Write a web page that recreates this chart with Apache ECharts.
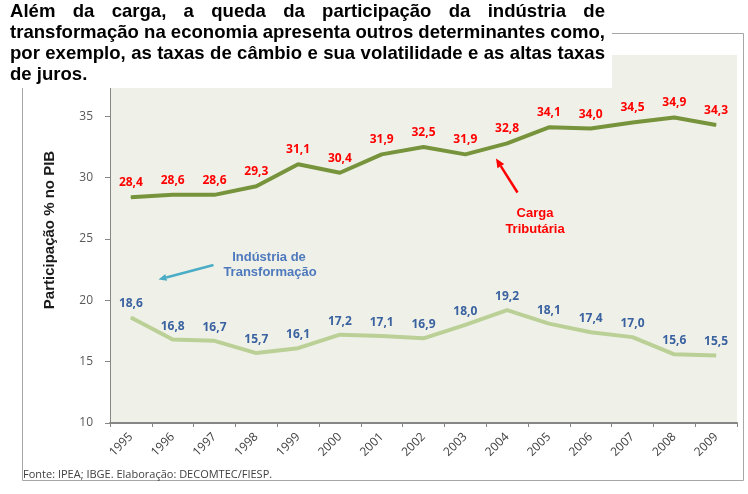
<!DOCTYPE html>
<html>
<head>
<meta charset="utf-8">
<script src="https://cdn.jsdelivr.net/npm/echarts@6/dist/echarts.min.js"></script>
<style>
html,body{margin:0;padding:0;background:#fff;}
#c{width:748px;height:494px;}
</style>
</head>
<body>
<div id="c"></div>
<script>
const categories = ['1995','1996','1997','1998','1999','2000','2001','2002','2003','2004','2005','2006','2007','2008','2009'];
const cargaTributaria = [28.4, 28.6, 28.6, 29.3, 31.1, 30.4, 31.9, 32.5, 31.9, 32.8, 34.1, 34.0, 34.5, 34.9, 34.3];
const industriaTransformacao = [18.6, 16.8, 16.7, 15.7, 16.1, 17.2, 17.1, 16.9, 18.0, 19.2, 18.1, 17.4, 17.0, 15.6, 15.5];
const yMin = 10, yMax = 40, yStep = 5;
const titleLines = [
  'Além da carga, a queda da participação da indústria de',
  'transformação na economia apresenta outros determinantes como,',
  'por exemplo, as taxas de câmbio e sua volatilidade e as altas taxas',
  'de juros.'
];
const yAxisName = 'Participação % no PIB';
const sourceText = 'Fonte: IPEA; IBGE. Elaboração: DECOMTEC/FIESP.';

const fmt = v => v.toFixed(1).replace('.', ',');

// Title justification via text measurement
const titleFont = 'bold 19px "Liberation Sans", Arial, sans-serif';
const cv = document.createElement('canvas').getContext('2d');
cv.font = titleFont;
const tLeft = 10, tRight = 605;
const lineW = cv.measureText(titleLines[1]).width;
const sx = Math.min(1, (tRight - tLeft) / lineW);
const lineYs = [12, 33, 54, 75];
const titleGraphics = [];
titleLines.forEach((ln, i) => {
  const justify = i < 3;
  const words = ln.split(' ');
  const widths = words.map(w => cv.measureText(w).width * sx);
  let gap = cv.measureText(' ').width * sx;
  if (justify) {
    const tot = widths.reduce((a, b) => a + b, 0);
    gap = (tRight - tLeft - tot) / (words.length - 1);
  }
  let x = tLeft;
  words.forEach((w, j) => {
    titleGraphics.push({
      type: 'text', x: x, y: lineYs[i], scaleX: sx, z: 101,
      style: { text: w, font: titleFont, fill: '#000', textAlign: 'left', textVerticalAlign: 'middle' }
    });
    x += widths[j] + gap;
  });
});

function arrow(x1, y1, x2, y2, color, w, headLen, headW) {
  const ang = Math.atan2(y2 - y1, x2 - x1);
  const bx = x2 - headLen * Math.cos(ang), by = y2 - headLen * Math.sin(ang);
  const px = -Math.sin(ang) * headW / 2, py = Math.cos(ang) * headW / 2;
  return [
    { type: 'line', z: 50, shape: { x1: x1, y1: y1, x2: bx, y2: by }, style: { stroke: color, lineWidth: w } },
    { type: 'polygon', z: 50, shape: { points: [[x2, y2], [bx + px, by + py], [bx - px, by - py]] }, style: { fill: color } }
  ];
}

const chart = echarts.init(document.getElementById('c'), null, { renderer: 'canvas' });
const option = {
  animation: false,
  backgroundColor: '#ffffff',
  grid: { left: 110, right: 11, top: 55, bottom: 71, show: true, backgroundColor: '#EFF1E8', borderWidth: 0 },
  xAxis: {
    type: 'category', data: categories, boundaryGap: true,
    axisLine: { lineStyle: { color: '#868686', width: 2 } },
    axisTick: { show: true, length: 4, lineStyle: { color: '#868686' } },
    axisLabel: { rotate: 45, fontSize: 12, color: '#404040', margin: 12, fontFamily: '"Open Sans", sans-serif' },
    splitLine: { show: false }
  },
  yAxis: {
    type: 'value', min: yMin, max: yMax, interval: yStep,
    axisLine: { show: true, lineStyle: { color: '#868686', width: 1 } },
    axisTick: { show: true, length: 5, lineStyle: { color: '#868686' } },
    axisLabel: { fontSize: 12, color: '#595959', margin: 17, fontFamily: '"Open Sans", sans-serif' },
    splitLine: { show: false }
  },
  series: [
    {
      name: 'Carga Tributária', type: 'line', data: cargaTributaria,
      symbol: 'circle', symbolSize: 1, showSymbol: true,
      itemStyle: { color: '#77933C' },
      lineStyle: { color: '#77933C', width: 4 },
      label: { show: true, position: 'top', distance: 8, color: '#FF0000', fontWeight: 'bold', fontSize: 12,
               fontFamily: '"Open Sans", sans-serif', formatter: p => fmt(p.value) }
    },
    {
      name: 'Indústria de Transformação', type: 'line', data: industriaTransformacao,
      symbol: 'circle', symbolSize: 1, showSymbol: true,
      itemStyle: { color: '#BBD096' },
      lineStyle: { color: '#BBD096', width: 4 },
      label: { show: true, position: 'top', distance: 7, color: '#3B62A0', fontWeight: 'bold', fontSize: 12,
               fontFamily: '"Open Sans", sans-serif', formatter: p => fmt(p.value) }
    }
  ],
  graphic: [
    { type: 'rect', z: -10, shape: { x: 22.5, y: 33.5, width: 721, height: 447 }, style: { fill: 'none', stroke: '#A6A6A6', lineWidth: 1 } },
    { type: 'rect', z: 100, shape: { x: 0, y: 0, width: 612, height: 88 }, style: { fill: '#ffffff' } },
    ...titleGraphics,
    { type: 'text', x: 50, y: 230, rotation: Math.PI / 2, z: 60,
      style: { text: yAxisName, font: 'bold 15px "Liberation Sans", Arial, sans-serif', fill: '#1a1a1a', textAlign: 'center', textVerticalAlign: 'middle' } },
    { type: 'text', x: 23, y: 475, z: 60,
      style: { text: sourceText, font: '11px "Open Sans", sans-serif', fill: '#404040', textAlign: 'left', textVerticalAlign: 'middle' } },
    { type: 'text', x: 535, y: 213, z: 60,
      style: { text: 'Carga', font: 'bold 13px "Liberation Sans", Arial, sans-serif', fill: '#FF0000', textAlign: 'center', textVerticalAlign: 'middle' } },
    { type: 'text', x: 535, y: 229, z: 60,
      style: { text: 'Tributária', font: 'bold 13px "Liberation Sans", Arial, sans-serif', fill: '#FF0000', textAlign: 'center', textVerticalAlign: 'middle' } },
    { type: 'text', x: 269, y: 257, z: 60,
      style: { text: 'Indústria de', font: 'bold 13px "Liberation Sans", Arial, sans-serif', fill: '#4F79BD', textAlign: 'center', textVerticalAlign: 'middle' } },
    { type: 'text', x: 270, y: 272, z: 60,
      style: { text: 'Transformação', font: 'bold 13px "Liberation Sans", Arial, sans-serif', fill: '#4F79BD', textAlign: 'center', textVerticalAlign: 'middle' } },
    ...arrow(517.5, 192.5, 496, 158.5, '#FF0000', 2.5, 9, 8),
    ...arrow(213.5, 265, 158.5, 279.5, '#4BACC6', 2.5, 8, 7)
  ]
};
chart.setOption(option);
</script>
</body>
</html>
